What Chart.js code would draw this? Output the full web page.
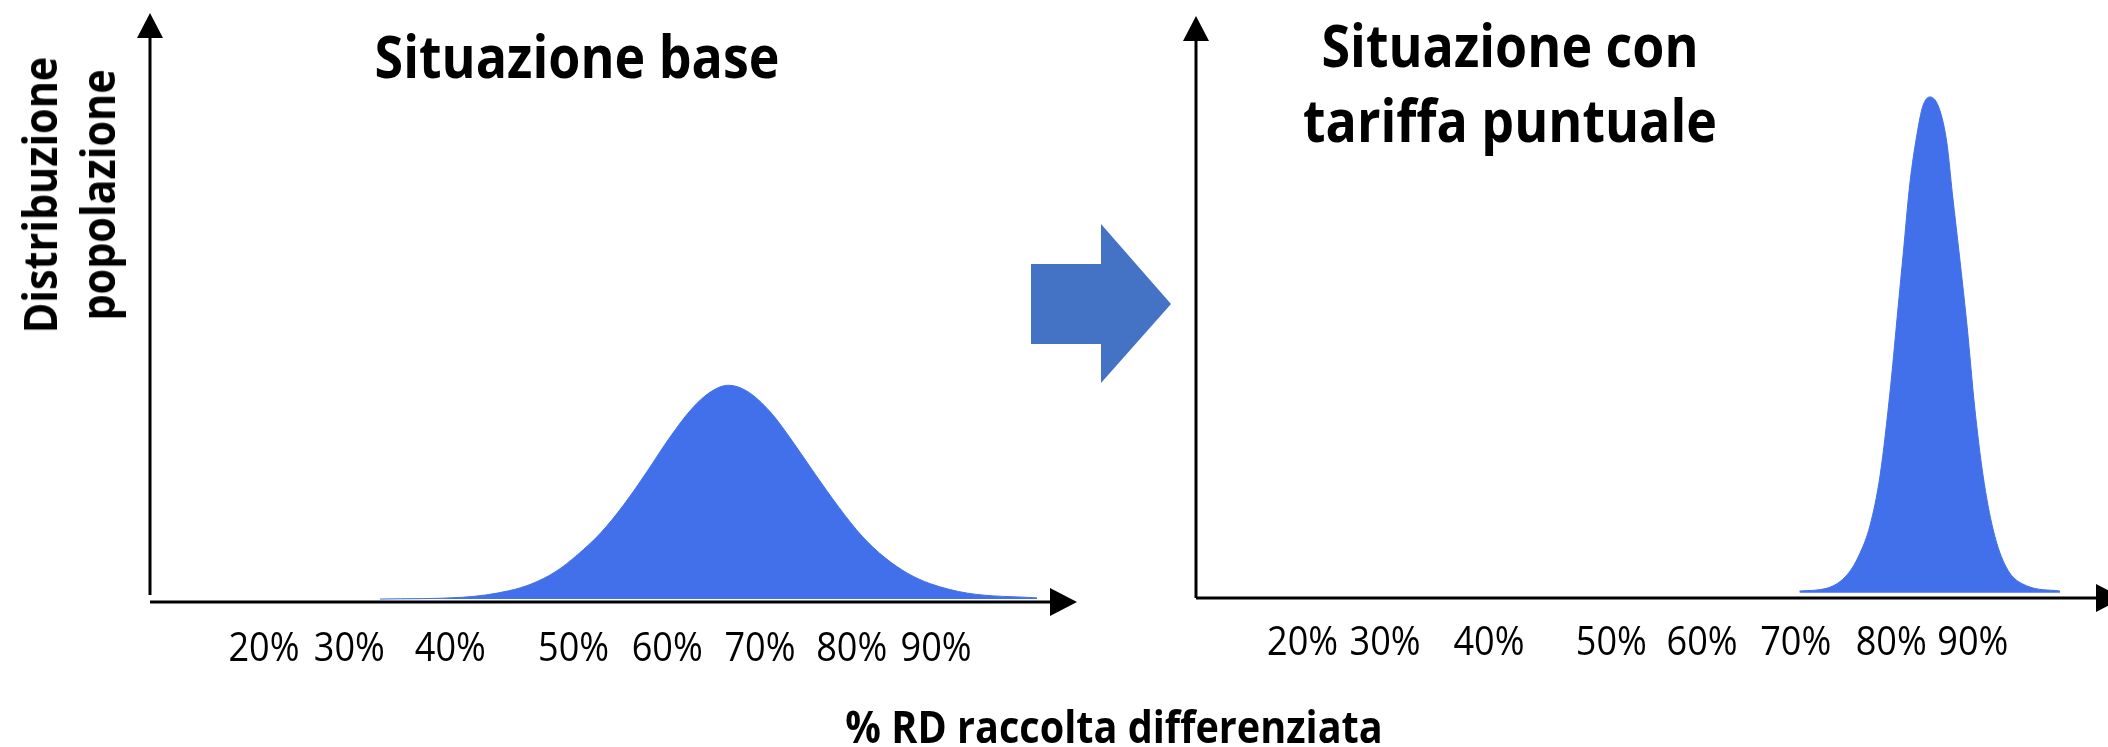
<!DOCTYPE html>
<html>
<head>
    <title>Situazione base / tariffa puntuale</title>
    <style>
        body {
            margin: 0;
            background: #ffffff;
            font-family: 'Open Sans', sans-serif;
        }
        #page {
            position: relative;
            width: 2108px;
            height: 747px;
            overflow: hidden;
            background: #ffffff;
        }
        .chart-box {
            position: absolute;
            top: 0;
            height: 700px;
        }
        #left-box { left: 0; width: 1100px; }
        #right-box { left: 1100px; width: 1023px; }
        .title {
            position: absolute;
            font-weight: bold;
            font-size: 59px;
            line-height: 75px;
            color: #000;
            text-align: center;
            white-space: nowrap;
            transform: translateX(-50%) scaleX(0.88);
        }
        #y-label {
            position: absolute;
            left: 68px;
            top: 195px;
            font-weight: bold;
            font-size: 47px;
            line-height: 58px;
            text-align: center;
            white-space: nowrap;
            transform: translate(-50%, -50%) rotate(-90deg) scaleX(0.88);
        }
        #x-label {
            position: absolute;
            left: 1114px;
            top: 703px;
            font-weight: bold;
            font-size: 45px;
            line-height: 45px;
            white-space: nowrap;
            transform: translateX(-50%) scaleX(0.88);
        }
        #step-arrow {
            position: absolute;
            left: 1031px;
            top: 224px;
            width: 140px;
            height: 159px;
            background: #4472C4;
            clip-path: polygon(0px 40px, 70px 40px, 70px 0px, 140px 80px, 70px 159px, 70px 120px, 0px 120px);
        }
    </style>
    <script src="https://cdn.jsdelivr.net/npm/chart.js"></script>
</head>
<body>
<div id="page">
    <div id="left-box" class="chart-box"><canvas id="leftChart"></canvas></div>
    <div id="right-box" class="chart-box"><canvas id="rightChart"></canvas></div>
    <div class="title" style="left:577px; top:18px;">Situazione base</div>
    <div class="title" style="left:1510px; top:7px;">Situazione con<br>tariffa puntuale</div>
    <div id="y-label">Distribuzione<br>popolazione</div>
    <div id="x-label">% RD raccolta differenziata</div>
    <div id="step-arrow"></div>
</div>
<script>
    // tick labels (same on both panels) and where they sit along each axis (0-100 of axis length)
    const tickLabels = ['20%', '30%', '40%', '50%', '60%', '70%', '80%', '90%'];
    const leftTickAt = [12.3, 21.5, 32.4, 45.7, 55.8, 65.8, 75.7, 84.8];
    const rightTickAt = [11.5, 20.4, 31.6, 44.8, 54.6, 64.7, 75.0, 83.8];

    // "Situazione base" distribution
    const baseX = [24.8, 33.7, 38.7, 41.2, 43.7, 46.1, 48.6, 51.1, 53.6, 56.1, 58.5, 60.5, 62.4,
                   64.4, 66.9, 69.3, 71.8, 74.3, 76.8, 79.3, 81.7, 84.2, 88.2, 95.7];
    const baseY = [0.5, 0.8, 1.9, 3.1, 5.1, 8.0, 11.7, 16.5, 22.1, 28.0, 32.9, 35.7, 36.8,
                   35.8, 32.3, 27.3, 21.6, 16.1, 11.2, 7.5, 4.9, 3.1, 1.5, 0.7];

    // "Situazione con tariffa puntuale" distribution
    const tariffX = [65.1, 68.1, 70.3, 71.6, 72.7, 73.8, 74.9, 75.6, 76.3, 77.0, 77.8, 78.4, 79.2,
                     80.2, 81.0, 81.6, 82.4, 83.2, 84.0, 84.9, 86.0, 87.4, 89.6, 93.2];
    const tariffY = [1.2, 1.7, 4.1, 7.6, 12.4, 21.1, 35.9, 47.6, 59.3, 71.1, 79.9, 84.5, 86.1,
                     84.0, 78.2, 69.4, 58.2, 46.4, 32.8, 21.1, 11.7, 5.3, 2.1, 1.2];

    const curveColor = '#4270EA';

    Chart.defaults.font.family = "'Open Sans', sans-serif";
    Chart.defaults.color = '#000';

    // black axes with arrow heads on the chart area edges, and the x tick labels
    // (narrowed a little so Open Sans looks like the condensed face of the original)
    const arrowAxes = {
        id: 'arrowAxes',
        afterDatasetsDraw(chart, args, opts) {
            const { ctx, chartArea } = chart;
            const { left, right, top, bottom } = chartArea;
            ctx.save();
            ctx.strokeStyle = '#000';
            ctx.fillStyle = '#000';
            ctx.lineWidth = 3;
            ctx.beginPath();
            ctx.moveTo(left, bottom - opts.yGap);
            ctx.lineTo(left, top + 20);
            ctx.moveTo(left, bottom);
            ctx.lineTo(right - 20, bottom);
            ctx.stroke();
            ctx.beginPath();
            ctx.moveTo(left, top);
            ctx.lineTo(left - 13, top + 25);
            ctx.lineTo(left + 13, top + 25);
            ctx.closePath();
            ctx.moveTo(right, bottom);
            ctx.lineTo(right - 27, bottom - 14);
            ctx.lineTo(right - 27, bottom + 14);
            ctx.closePath();
            ctx.fill();

            const xScale = chart.scales.x;
            ctx.font = "41px 'Open Sans', sans-serif";
            ctx.textAlign = 'center';
            ctx.textBaseline = 'alphabetic';
            xScale.ticks.forEach((tick, i) => {
                ctx.save();
                ctx.translate(xScale.getPixelForValue(tick.value), bottom + opts.labelDrop);
                ctx.scale(0.88, 1);
                ctx.fillText(tickLabels[i], 0, 0);
                ctx.restore();
            });
            ctx.restore();
        }
    };

    function makeChart(canvasId, xs, ys, tickAt, pad, axisHeight, labelDrop, baseLevel, yGap) {
        const points = xs.map((x, i) => ({ x: x, y: ys[i] }));
        return new Chart(document.getElementById(canvasId), {
            type: 'line',
            data: {
                datasets: [{
                    data: points,
                    borderColor: curveColor,
                    backgroundColor: curveColor,
                    borderWidth: 1,
                    pointRadius: 0,
                    cubicInterpolationMode: 'monotone',
                    fill: { value: baseLevel }
                }]
            },
            options: {
                responsive: true,
                maintainAspectRatio: false,
                animation: false,
                layout: { padding: pad },
                plugins: {
                    legend: { display: false },
                    tooltip: { enabled: false },
                    arrowAxes: { yGap: yGap, labelDrop: labelDrop }
                },
                scales: {
                    x: {
                        type: 'linear',
                        min: 0,
                        max: 100,
                        grid: { display: false, drawTicks: false },
                        border: { display: false },
                        afterBuildTicks: function(scale) {
                            scale.ticks = tickAt.map(v => ({ value: v }));
                        },
                        afterFit: function(scale) {
                            scale.height = axisHeight;
                        },
                        ticks: {
                            display: false,
                            autoSkip: false,
                            callback: function(value, index) {
                                return tickLabels[index];
                            }
                        }
                    },
                    y: {
                        display: false,
                        min: 0,
                        max: 100
                    }
                }
            },
            plugins: [arrowAxes]
        });
    }

    makeChart('leftChart', baseX, baseY, leftTickAt,
        { left: 150, top: 13, right: 23, bottom: 0 }, 98, 59, 0.5, 7);
    makeChart('rightChart', tariffX, tariffY, rightTickAt,
        { left: 96, top: 16, right: 0, bottom: 0 }, 102, 57, 0.9, 0);
</script>
</body>
</html>
